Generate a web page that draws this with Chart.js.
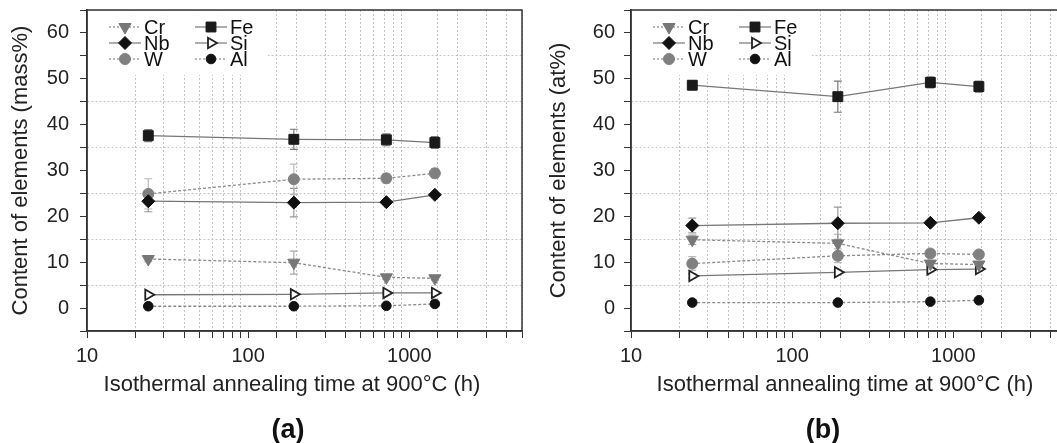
<!DOCTYPE html>
<html>
<head>
<meta charset="utf-8">
<script src="https://cdn.jsdelivr.net/npm/chart.js@4.4.1/dist/chart.umd.min.js"></script>
<style>
  html, body { margin: 0; padding: 0; background: #fff; overflow: hidden; }
  .wrap { position: relative; width: 1057px; height: 443px; overflow: hidden; }
  canvas { position: absolute; top: 0; }
  .xtitle { position: absolute; font: 22px "Liberation Sans", Arial, sans-serif; color: #222; transform: translate(-50%, -50%); white-space: nowrap; }
  .panel { position: absolute; font: bold 27px "Liberation Sans", Arial, sans-serif; color: #111; transform: translate(-50%, -50%); }
</style>
</head>
<body>
<div class="wrap">
  <canvas id="chartA" width="545" height="443" style="left:0px"></canvas>
  <canvas id="chartB" width="545" height="443" style="left:544px"></canvas>
  <div class="xtitle" style="left:292px; top:384px">Isothermal annealing time at 900°C (h)</div>
  <div class="xtitle" style="left:845px; top:384px">Isothermal annealing time at 900°C (h)</div>
  <div class="panel" style="left:288px; top:429px">(a)</div>
  <div class="panel" style="left:823px; top:429px">(b)</div>
</div>
<script>
const times = [24, 192, 720, 1440];
const xTickLabels = [10, 100, 1000];
const yTickLabels = [0, 10, 20, 30, 40, 50, 60];

// (a) mass%
const crMass = [10.7, 9.9, 6.7, 6.5];
const crMassErr = [0.6, 2.5, 0.5, 0.4];
const feMass = [37.6, 36.8, 36.7, 36.1];
const feMassErr = [1.3, 2.2, 1.3, 1.3];
const nbMass = [23.3, 23.0, 23.1, 24.7];
const nbMassErr = [2.3, 3.1, 0.5, 0.5];
const siMass = [2.9, 3.0, 3.3, 3.3];
const siMassErr = [0.3, 0.3, 0.3, 0.3];
const wMass = [24.9, 28.1, 28.3, 29.4];
const wMassErr = [3.3, 3.3, 1.0, 1.0];
const alMass = [0.4, 0.4, 0.5, 0.9];
const alMassErr = [0.3, 0.3, 0.3, 0.3];

// (b) at%
const crAt = [14.9, 14.1, 9.7, 9.5];
const crAtErr = [1.0, 2.0, 0.6, 0.5];
const feAt = [48.6, 46.1, 49.2, 48.3];
const feAtErr = [1.0, 3.4, 1.2, 1.2];
const nbAt = [18.0, 18.5, 18.6, 19.7];
const nbAtErr = [1.6, 3.5, 0.5, 0.5];
const siAt = [7.0, 7.8, 8.4, 8.5];
const siAtErr = [0.5, 0.5, 0.5, 0.5];
const wAt = [9.7, 11.4, 11.9, 11.7];
const wAtErr = [1.5, 1.5, 0.5, 0.5];
const alAt = [1.2, 1.2, 1.4, 1.7];
const alAtErr = [0.3, 0.3, 0.3, 0.3];

const FONT = '"Liberation Sans", Arial, sans-serif';

const styles = {
  Cr: { line: '#8a8a8a', dash: [3, 2], point: 'triangle', rot: 180, fill: '#777', stroke: '#777', r: 7, err: '#aaa' },
  Fe: { line: '#777', dash: [], point: 'rect', rot: 0, fill: '#1a1a1a', stroke: '#1a1a1a', r: 7, err: '#777' },
  Nb: { line: '#777', dash: [], point: 'rectRot', rot: 0, fill: '#111', stroke: '#111', r: 6.5, err: '#999' },
  Si: { line: '#777', dash: [], point: 'triangle', rot: 90, fill: '#fff', stroke: '#222', r: 6, bw: 1.8, err: '#999' },
  W:  { line: '#8a8a8a', dash: [3, 2], point: 'circle', rot: 0, fill: '#808080', stroke: '#808080', r: 5.5, err: '#bbb' },
  Al: { line: '#8a8a8a', dash: [3, 2], point: 'circle', rot: 0, fill: '#111', stroke: '#111', r: 4.8, err: '#999' }
};
const legendCols = [['Cr', 'Nb', 'W'], ['Fe', 'Si', 'Al']];

function drawMarker(ctx, s, x, y) {
  ctx.save();
  ctx.fillStyle = s.fill;
  ctx.strokeStyle = s.stroke;
  ctx.lineWidth = s.bw || 1;
  ctx.beginPath();
  const r = s.r;
  if (s.point === 'circle') {
    ctx.arc(x, y, r, 0, Math.PI * 2);
  } else if (s.point === 'rect') {
    const h = r * Math.SQRT1_2;
    ctx.rect(x - h, y - h, 2 * h, 2 * h);
  } else if (s.point === 'rectRot') {
    ctx.moveTo(x, y - r); ctx.lineTo(x + r, y); ctx.lineTo(x, y + r); ctx.lineTo(x - r, y);
    ctx.closePath();
  } else {
    let a = s.rot * Math.PI / 180;
    for (let i = 0; i < 3; i++) {
      const px = x + Math.sin(a) * r, py = y - Math.cos(a) * r;
      if (i) ctx.lineTo(px, py); else ctx.moveTo(px, py);
      a += Math.PI * 2 / 3;
    }
    ctx.closePath();
  }
  ctx.fill();
  ctx.stroke();
  ctx.restore();
}

const decor = {
  id: 'decor',
  beforeDatasetsDraw(chart) {
    const ctx = chart.ctx, area = chart.chartArea;
    const xs = chart.scales.x, ys = chart.scales.y;
    // legend box hides the grid
    ctx.save();
    ctx.fillStyle = '#fff';
    ctx.fillRect(area.left + 1, area.top + 1, 180, 64);
    ctx.font = '20px ' + FONT;
    ctx.textBaseline = 'middle';
    ctx.fillStyle = '#111';
    legendCols.forEach((col, c) => {
      const x0 = area.left + (c ? 108 : 22);
      col.forEach((name, r) => {
        const s = styles[name];
        const y = area.top + 17 + r * 16;
        ctx.save();
        ctx.strokeStyle = s.line;
        ctx.lineWidth = 1.2;
        ctx.setLineDash(s.dash.length ? [2, 2] : []);
        ctx.beginPath();
        ctx.moveTo(x0, y); ctx.lineTo(x0 + 32, y);
        ctx.stroke();
        ctx.restore();
        drawMarker(ctx, s, x0 + 16, y);
        ctx.fillText(name, x0 + 35, y + 1);
      });
    });
    ctx.restore();

    // error bars
    chart.data.datasets.forEach(ds => {
      ctx.save();
      ctx.strokeStyle = ds.errColor;
      ctx.lineWidth = 1.2;
      ds.data.forEach((p, i) => {
        const e = ds.errors[i];
        const px = xs.getPixelForValue(p.x);
        const top = ys.getPixelForValue(p.y + e), bot = ys.getPixelForValue(p.y - e);
        ctx.beginPath();
        ctx.moveTo(px, top); ctx.lineTo(px, bot);
        ctx.moveTo(px - 4, top); ctx.lineTo(px + 4, top);
        ctx.moveTo(px - 4, bot); ctx.lineTo(px + 4, bot);
        ctx.stroke();
      });
      ctx.restore();
    });
  },
  afterDraw(chart) {
    const ctx = chart.ctx, a = chart.chartArea;
    ctx.save();
    ctx.strokeStyle = '#333';
    ctx.lineWidth = 1.5;
    ctx.strokeRect(a.left, a.top, a.right - a.left, a.bottom - a.top);
    ctx.restore();
  }
};

function makePanel(id, yTitle, titlePad, labelPad, series) {
  const datasets = series.map(([name, vals, errs]) => {
    const s = styles[name];
    return {
      label: name,
      data: times.map((t, i) => ({ x: t, y: vals[i] })),
      errors: errs,
      errColor: s.err,
      borderColor: s.line,
      borderWidth: 1.3,
      borderDash: s.dash,
      pointStyle: s.point,
      pointRotation: s.rot,
      pointRadius: s.r,
      pointHoverRadius: s.r,
      pointBackgroundColor: s.fill,
      pointBorderColor: s.stroke,
      pointBorderWidth: s.bw || 1,
      fill: false,
      tension: 0
    };
  });

  return new Chart(document.getElementById(id), {
    type: 'line',
    data: { datasets },
    plugins: [decor],
    options: {
      responsive: false,
      animation: false,
      layout: { padding: { top: 10, right: 23, bottom: 0, left: 0 } },
      plugins: { legend: { display: false }, tooltip: { enabled: false } },
      scales: {
        x: {
          type: 'logarithmic',
          min: 10,
          max: 5000,
          afterFit: s => { s.height = 112; s.paddingLeft = 0; s.paddingRight = 0; },
          border: { display: true, color: '#333', width: 1.5, dash: [2, 2] },
          grid: {
            color: c => {
              const l = Math.log10(c.tick.value);
              return Math.abs(l - Math.round(l)) < 1e-9 ? 'rgba(0,0,0,0)' : '#c4c4c4';
            },
            tickColor: '#333',
            tickLength: 7,
            lineWidth: 1
          },
          ticks: {
            autoSkip: false,
            maxRotation: 0,
            padding: 6,
            color: '#222',
            font: { family: FONT, size: 20 },
            callback: v => xTickLabels.includes(v) ? String(v) : ''
          }
        },
        y: {
          min: -5,
          max: 65,
          afterFit: s => { s.width = 87; s.paddingTop = 0; s.paddingBottom = 0; },
          border: { display: true, color: '#333', width: 1.5, dash: [2, 2] },
          grid: {
            color: c => (c.tick.value % 10 === 0 ? 'rgba(0,0,0,0)' : '#c4c4c4'),
            tickColor: '#333',
            tickLength: 7,
            lineWidth: 1
          },
          title: {
            display: true,
            text: yTitle,
            color: '#222',
            font: { family: FONT, size: 22 },
            padding: { top: titlePad, bottom: 0 }
          },
          ticks: {
            stepSize: 5,
            autoSkip: false,
            padding: labelPad,
            color: '#222',
            font: { family: FONT, size: 20 },
            callback: v => yTickLabels.includes(v) ? String(v) : ''
          }
        }
      }
    }
  });
}

makePanel('chartA', 'Content of elements (mass%)', 8, 11, [
  ['Cr', crMass, crMassErr],
  ['Fe', feMass, feMassErr],
  ['Nb', nbMass, nbMassErr],
  ['Si', siMass, siMassErr],
  ['W', wMass, wMassErr],
  ['Al', alMass, alMassErr]
]);

makePanel('chartB', 'Content of elements (at%)', 2, 9, [
  ['Cr', crAt, crAtErr],
  ['Fe', feAt, feAtErr],
  ['Nb', nbAt, nbAtErr],
  ['Si', siAt, siAtErr],
  ['W', wAt, wAtErr],
  ['Al', alAt, alAtErr]
]);
</script>
</body>
</html>
